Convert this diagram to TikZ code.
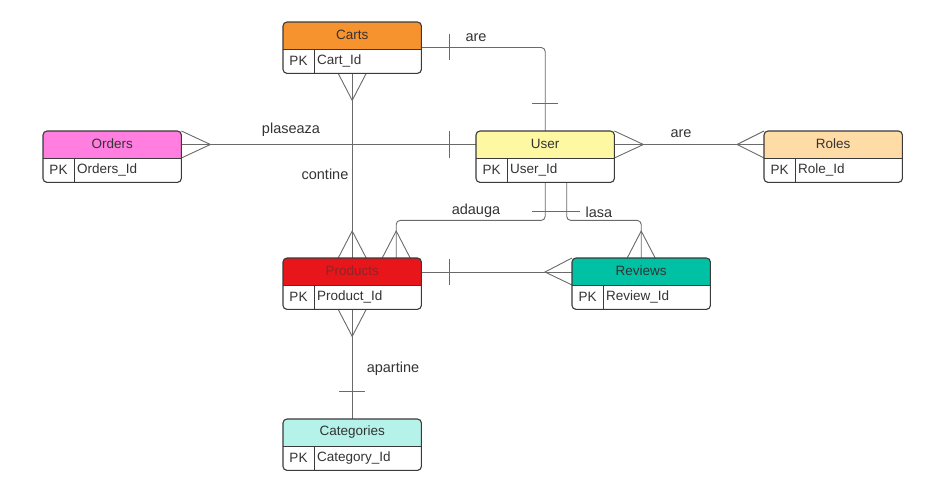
\documentclass[tikz,border=0pt]{standalone}
\usepackage{fontspec}
\setmainfont{Liberation Sans}
\usetikzlibrary{calc}

\definecolor{edge}{HTML}{3A3A3A}
\definecolor{wire}{HTML}{6A6A6A}
\definecolor{ink}{HTML}{333333}
\definecolor{cartsC}{HTML}{F7932F}
\definecolor{ordersC}{HTML}{FF7EDF}
\definecolor{userC}{HTML}{FFF8A3}
\definecolor{rolesC}{HTML}{FFDBA6}
\definecolor{productsC}{HTML}{E8161A}
\definecolor{reviewsC}{HTML}{00C1A4}
\definecolor{categoriesC}{HTML}{B5F3EA}

\tikzset{
  tbl/.style={minimum width=138pt, minimum height=51pt, inner sep=0pt, anchor=north west},
  frame/.style={draw=edge, line width=1.1pt, rounded corners=4pt},
  sep/.style={draw=edge, line width=0.9pt},
  title/.style={font=\fontsize{13.5}{15}\selectfont, text=ink},
  field/.style={font=\fontsize{13.5}{15}\selectfont, text=ink},
  rel/.style={font=\fontsize{14.5}{16}\selectfont, text=ink},
  conn/.style={draw=wire, line width=0.9pt, rounded corners=4pt},
  crowline/.style={draw=wire, line width=0.9pt},
}

% entity table drawn on an already placed node:
% #1 name, #2 title, #3 key, #4 header colour
\newcommand\entity[4]{%
  \begin{scope}
    \clip[rounded corners=4pt] (#1.north west) rectangle (#1.south east);
    \fill[white] (#1.north west) rectangle (#1.south east);
    \fill[#4] (#1.north west) rectangle ([yshift=-27pt]#1.north east);
  \end{scope}
  \draw[frame] (#1.north west) rectangle (#1.south east);
  \draw[sep] ([yshift=-27pt]#1.north west) -- ([yshift=-27pt]#1.north east);
  \draw[sep] ([xshift=31pt,yshift=-27pt]#1.north west) -- ([xshift=31pt]#1.south west);
  \node[title] (#1-t) at ([yshift=-13pt]#1.north) {#2};
  \node[field] (#1-pk) at ([xshift=15.5pt,yshift=-39pt]#1.north west) {PK};
  \node[field, anchor=west, inner sep=0pt] (#1-id) at ([xshift=34pt,yshift=-39pt]#1.north west) {#3};
}

\begin{document}
\begin{tikzpicture}[x=1pt, y=-1pt]
  \useasboundingbox (0,0) rectangle (945,494);

  % ---------- entity frames ----------
  \node[tbl] (carts) at (283,22) {};
  \node[tbl] (orders) at (43,131) {};
  \node[tbl] (user) at (476,131) {};
  \node[tbl] (roles) at (764,131) {};
  \node[tbl] (products) at (283,258) {};
  \node[tbl] (reviews) at (572,258) {};
  \node[tbl] (categories) at (283,419) {};

  % ---------- connectors ----------
  % Carts -- User (are)
  \coordinate (cu) at ([yshift=-25.5pt]carts.north east);
  \draw[conn] (cu) -| (user.north);
  \draw[crowline] ([xshift=28pt,yshift=13pt]cu) -- ([xshift=28pt,yshift=-13pt]cu);
  \draw[crowline] ([xshift=-13pt,yshift=28pt]user.north) -- ([xshift=13pt,yshift=28pt]user.north);

  % Carts -- Products (contine)
  \draw[conn] (carts.south) -- (products.north);
  \draw[crowline] ([xshift=-14pt]carts.south) -- ([yshift=-27pt]carts.south) -- ([xshift=14pt]carts.south);
  \draw[crowline] ([xshift=-14pt]products.north) -- ([yshift=27pt]products.north) -- ([xshift=14pt]products.north);

  % Orders -- User (plaseaza)
  \coordinate (ou) at ([yshift=-13.5pt]orders.north east);
  \coordinate (uo) at ([yshift=-13.5pt]user.north west);
  \draw[conn] (ou) -- (uo);
  \draw[crowline] (orders.north east) -- ([xshift=29pt]ou) -- ([yshift=-27pt]orders.north east);
  \draw[crowline] ([xshift=-27pt,yshift=13.5pt]uo) -- ([xshift=-27pt,yshift=-13.5pt]uo);

  % User -- Roles (are)
  \coordinate (ur) at ([yshift=-13.5pt]user.north east);
  \coordinate (ru) at ([yshift=-13.5pt]roles.north west);
  \draw[conn] (ur) -- (ru);
  \draw[crowline] (user.north east) -- ([xshift=29pt]ur) -- ([yshift=-27pt]user.north east);
  \draw[crowline] (roles.north west) -- ([xshift=-27pt]ru) -- ([yshift=-27pt]roles.north west);

  % User -- Products (adauga)
  \coordinate (pa) at ([xshift=44pt]products.north);
  \draw[conn] (user.south) |- ([yshift=-38pt]user.south -| pa) -- (pa);
  \draw[crowline] ([xshift=-14pt]pa) -- ([yshift=27pt]pa) -- ([xshift=14pt]pa);
  \draw[crowline] ([xshift=-13pt,yshift=-29pt]user.south) -- ([xshift=13pt,yshift=-29pt]user.south);

  % User -- Reviews (lasa)
  \coordinate (ul) at ([xshift=21.5pt]user.south);
  \draw[conn] (ul) |- ([yshift=-38pt]ul -| reviews.north) -- (reviews.north);
  \draw[crowline] ([xshift=-14pt]reviews.north) -- ([yshift=27pt]reviews.north) -- ([xshift=14pt]reviews.north);
  \draw[crowline] ([xshift=-13pt,yshift=-29pt]ul) -- ([xshift=13pt,yshift=-29pt]ul);

  % Products -- Reviews
  \coordinate (pr) at ([yshift=-14pt]products.north east);
  \coordinate (rp) at ([yshift=-14pt]reviews.north west);
  \draw[conn] (pr) -- (rp);
  \draw[crowline] ([xshift=28pt,yshift=13pt]pr) -- ([xshift=28pt,yshift=-13pt]pr);
  \draw[crowline] (reviews.north west) -- ([xshift=-27pt]rp) -- ([yshift=-27pt]reviews.north west);

  % Products -- Categories (apartine)
  \draw[conn] (products.south) -- (categories.north);
  \draw[crowline] ([xshift=-14pt]products.south) -- ([yshift=-27pt]products.south) -- ([xshift=14pt]products.south);
  \draw[crowline] ([xshift=-13pt,yshift=28pt]categories.north) -- ([xshift=13pt,yshift=28pt]categories.north);

  % ---------- entity tables ----------
  \entity{carts}{Carts}{Cart\_Id}{cartsC}
  \entity{orders}{Orders}{Orders\_Id}{ordersC}
  \entity{user}{User}{User\_Id}{userC}
  \entity{roles}{Roles}{Role\_Id}{rolesC}
  \entity{products}{\textcolor{productsC!50!ink}{Products}}{Product\_Id}{productsC}
  \entity{reviews}{Reviews}{Review\_Id}{reviewsC}
  \entity{categories}{Categories}{Category\_Id}{categoriesC}

  % ---------- relationship labels ----------
  \node[rel] (l-are1) at (476,38) {are};
  \node[rel] (l-plas) at (291,130) {plaseaza};
  \node[rel] (l-cont) at (325,174) {contine};
  \node[rel] (l-are2) at (681,134) {are};
  \node[rel] (l-adau) at (476,211) {adauga};
  \node[rel] (l-lasa) at (599,212) {lasa};
  \node[rel] (l-apar) at (393,369) {apartine};
\end{tikzpicture}
\end{document}
